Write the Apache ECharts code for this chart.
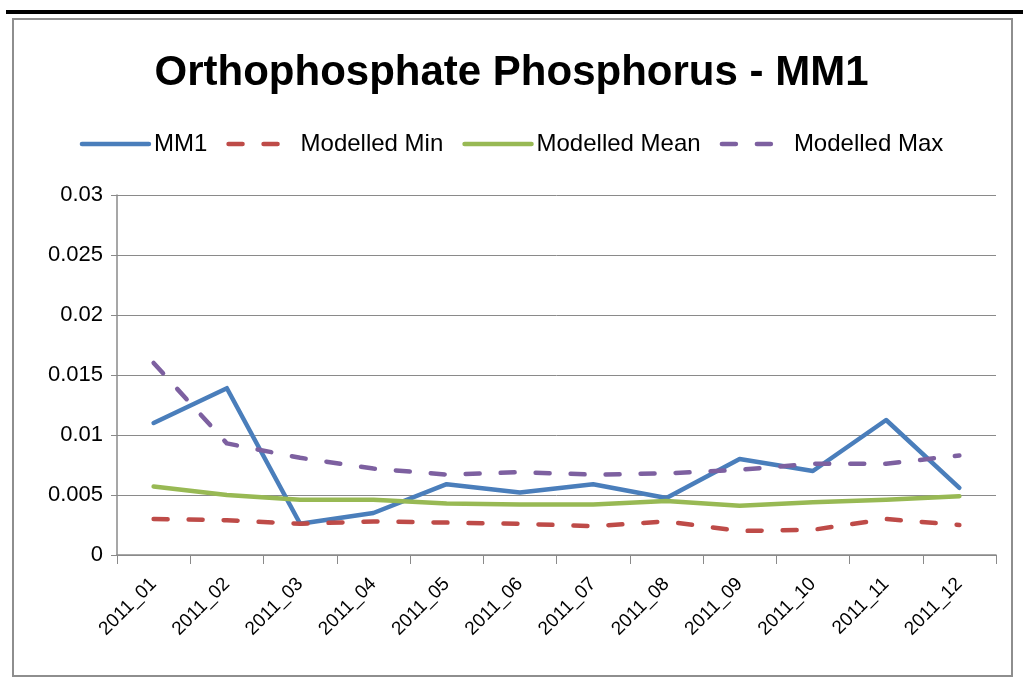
<!DOCTYPE html>
<html>
<head>
<meta charset="utf-8">
<script src="https://cdn.jsdelivr.net/npm/echarts@6/dist/echarts.min.js"></script>
<style>
  html, body { margin: 0; padding: 0; background: #fff; }
  #chart { width: 1023px; height: 682px; }
</style>
</head>
<body>
<div id="chart"></div>
<script>
// months on the x axis
const months = ['2011_01', '2011_02', '2011_03', '2011_04', '2011_05', '2011_06',
                '2011_07', '2011_08', '2011_09', '2011_10', '2011_11', '2011_12'];

// observed values at MM1
const mm1 = [0.011, 0.0139, 0.0026, 0.0035, 0.0059, 0.0052, 0.0059, 0.00475, 0.008, 0.007, 0.01125, 0.0056];
// modelled envelope
const modelledMin = [0.003, 0.0029, 0.0026, 0.0028, 0.0027, 0.0026, 0.0024, 0.0028, 0.002, 0.0021, 0.003, 0.0025];
const modelledMean = [0.0057, 0.005, 0.0046, 0.0046, 0.0043, 0.0042, 0.0042, 0.0045, 0.0041, 0.0044, 0.0046, 0.0049];
const modelledMax = [0.016, 0.0093, 0.0081, 0.0072, 0.0067, 0.0069, 0.0067, 0.0068, 0.0071, 0.0076, 0.0076, 0.0083];

const font = 'Liberation Sans';

function gen_line(name, data, color, dashed) {
    return {
        name: name,
        type: 'line',
        data: data,
        symbol: 'none',
        color: color,
        lineStyle: {
            width: 4.5,
            color: color,
            type: dashed ? [14, 21] : 'solid',
            cap: 'round',
            join: 'round'
        }
    };
}

let chart = echarts.init(document.getElementById('chart'));

let option = {
    animation: false,
    backgroundColor: '#fff',
    title: {
        text: 'Orthophosphate Phosphorus - MM1',
        left: 'center',
        top: 47,
        textStyle: {
            color: '#000',
            fontFamily: font,
            fontWeight: 'bold',
            fontSize: 42
        }
    },
    legend: {
        top: 127,
        left: 'center',
        itemWidth: 67,
        itemHeight: 14,
        itemGap: 19,
        textStyle: {
            color: '#000',
            fontFamily: font,
            fontSize: 24
        },
        itemStyle: {opacity: 0},
        lineStyle: {width: 4.5},
        data: ['MM1', 'Modelled Min', 'Modelled Mean', 'Modelled Max']
    },
    grid: {
        left: 117,
        right: 27,
        top: 195,
        bottom: 127
    },
    xAxis: {
        type: 'category',
        data: months,
        boundaryGap: true,
        axisLine: {lineStyle: {color: '#8a8a8a', width: 1.5}},
        axisTick: {show: true, length: 9, lineStyle: {color: '#8a8a8a'}},
        axisLabel: {
            rotate: 45,
            margin: 26,
            color: '#000',
            fontFamily: font,
            fontSize: 19
        }
    },
    yAxis: {
        type: 'value',
        min: 0,
        max: 0.03,
        interval: 0.005,
        axisLine: {show: true, lineStyle: {color: '#8a8a8a', width: 1.5}},
        axisTick: {show: true, length: 6, lineStyle: {color: '#8a8a8a'}},
        splitLine: {lineStyle: {color: '#8a8a8a', width: 1}},
        axisLabel: {
            margin: 14,
            color: '#000',
            fontFamily: font,
            fontSize: 22,
            formatter: function (v) { return String(+v.toFixed(3)); }
        }
    },
    graphic: [
        {type: 'rect', shape: {x: 6, y: 10, width: 1017, height: 4}, style: {fill: '#000'}},
        {type: 'rect', shape: {x: 13, y: 19, width: 999, height: 657}, style: {fill: 'none', stroke: '#8e8e8e', lineWidth: 2}}
    ],
    series: [
        gen_line('MM1', mm1, '#4a7ebb', false),
        gen_line('Modelled Min', modelledMin, '#be4b48', true),
        gen_line('Modelled Mean', modelledMean, '#98b954', false),
        gen_line('Modelled Max', modelledMax, '#7d60a0', true)
    ]
};

chart.setOption(option);
</script>
</body>
</html>
